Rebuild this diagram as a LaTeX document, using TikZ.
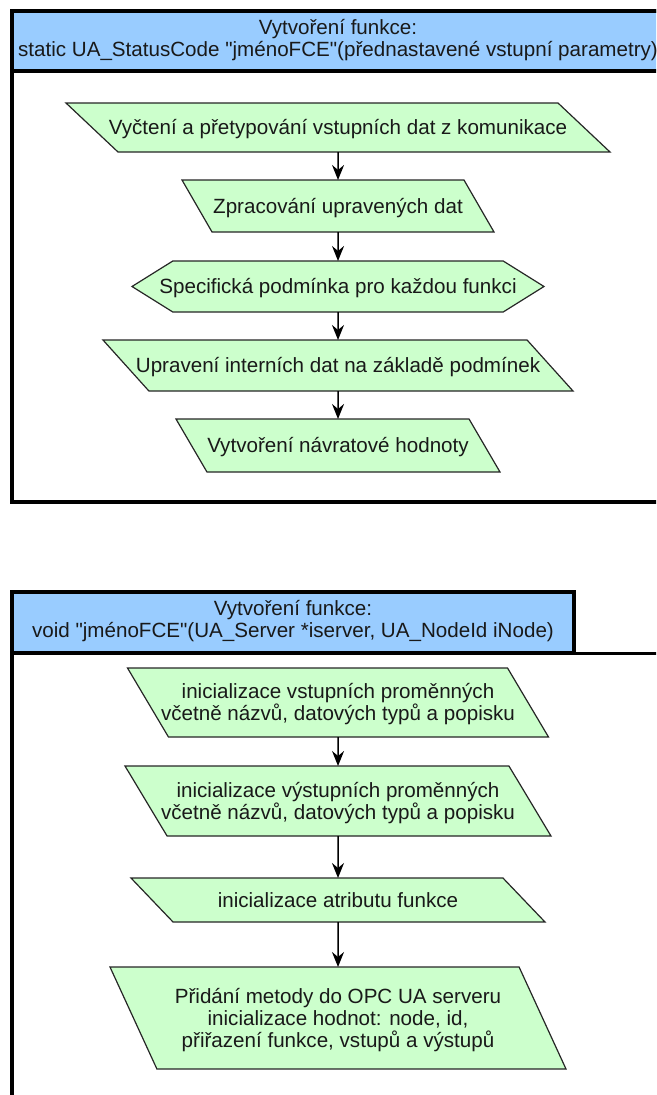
\documentclass[tikz,border=0pt]{standalone}
\usepackage{fontspec}
\setmainfont{Liberation Sans}
\usetikzlibrary{arrows.meta,shapes.geometric,shapes.symbols}

\definecolor{headblue}{HTML}{99CCFF}
\definecolor{iogreen}{HTML}{CCFFCC}

\begin{document}
\begin{tikzpicture}[x=1pt,y=-1pt,line join=miter,
    txt/.style={font=\fontsize{20.6pt}{22pt}\selectfont, text=black!90, align=center},
    head/.style={txt, inner sep=0pt},
    io/.style={txt, trapezium, trapezium stretches body=true, draw=black!85, fill=iogreen, line width=1.2pt, inner xsep=-40pt, outer sep=0pt, text height=14.6pt, text depth=0pt},
    two/.style={text height=36.6pt},
    three/.style={text height=58.6pt},
    cond/.style={io, signal, signal to=west and east, signal pointer angle=64},
    flow/.style={line width=1.5pt, -{Stealth[length=15pt,width=12pt,inset=5pt]}}]
    \clip (0,0) rectangle (656,1095);
    % horni ramec
    \draw [fill=headblue, line width=4pt] (12,11) rectangle (664,71);
    \draw [line width=4pt] (12,11) rectangle (664,502);
    \node[head] (tophead) at (338,40) {Vytvoření funkce:\\static UA\_StatusCode \textquotedbl jménoFCE\textquotedbl(přednastavené vstupní parametry)};
    \node[io, trapezium left angle=136.7, trapezium right angle=43.3, minimum width=544pt, inner ysep=17.2pt] (read) at (338,127.5) {Vyčtení a přetypování vstupních dat z komunikace};
    \node[io, trapezium left angle=120, trapezium right angle=60, minimum width=312pt, inner ysep=18.7pt] (proc) at (338,206) {Zpracování upravených dat};
    \node[cond, minimum width=412pt, minimum height=51pt, inner ysep=18.2pt] (spec) at (338,286.5) {Specifická podmínka pro každou funkci};
    \node[io, trapezium left angle=132, trapezium right angle=48, minimum width=470pt, inner ysep=18.2pt] (upd) at (338,365.5) {Upravení interních dat na základě podmínek};
    \node[io, trapezium left angle=120.3, trapezium right angle=59.7, minimum width=324pt, inner ysep=19.2pt] (ret) at (338,445.5) {Vytvoření návratové hodnoty};
    \draw[flow] (read) -- (proc);
    \draw[flow] (proc) -- (spec);
    \draw[flow] (spec) -- (upd);
    \draw[flow] (upd) -- (ret);
    % dolni ramec
    \draw [line width=4pt] (12,592) -- (12,1100);
    \draw [line width=3pt] (12,653) -- (664,653);
    \draw [fill=headblue, line width=4pt] (12,592) rectangle (574,653);
    \node[head] (bothead) at (293,621.5) {Vytvoření funkce:\\void \textquotedbl jménoFCE\textquotedbl(UA\_Server *iserver, UA\_NodeId iNode)};
    \node[io, two, trapezium left angle=120.7, trapezium right angle=59.3, minimum width=421pt, inner ysep=16.2pt] (inp) at (338,702.5) {inicializace vstupních proměnných\\včetně názvů, datových typů a popisku};
    \node[io, two, trapezium left angle=121, trapezium right angle=59, minimum width=426pt, inner ysep=16.7pt] (outp) at (338,801) {inicializace výstupních proměnných\\včetně názvů, datových typů a popisku};
    \node[io, trapezium left angle=133.7, trapezium right angle=46.3, minimum width=414pt, inner ysep=14.7pt] (attr) at (338,900) {inicializace atributu funkce};
    \node[io, three, trapezium left angle=114.7, trapezium right angle=65.3, minimum width=456pt, inner ysep=21.7pt] (add) at (338,1018) {Přidání metody do OPC UA serveru\\inicializace hodnot: node, id,\\přiřazení funkce, vstupů a výstupů};
    \draw[flow] (inp) -- (outp);
    \draw[flow] (outp) -- (attr);
    \draw[flow] (attr) -- (add);
\end{tikzpicture}
\end{document}
